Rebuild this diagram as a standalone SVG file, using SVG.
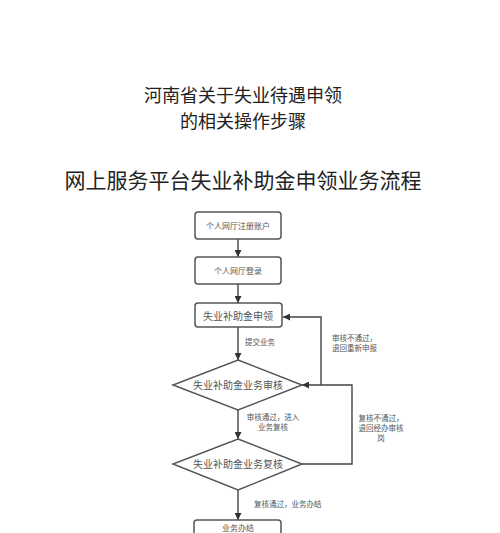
<svg xmlns="http://www.w3.org/2000/svg" width="500" height="533" viewBox="0 0 500 533">
<style>
.t{font-family:"Noto Sans CJK SC","Noto Sans",sans-serif;fill:#222;text-anchor:middle}
.n{fill:#fff;stroke:#555;stroke-width:1.5}
.c{fill:none;stroke:#444;stroke-width:1.4}
.bt{font-family:"Noto Sans CJK SC",sans-serif;fill:#555;font-size:8px;text-anchor:middle}
.dt{font-family:"Noto Sans CJK SC",sans-serif;fill:#555;font-size:10px;text-anchor:middle}
.lt{font-family:"Noto Sans CJK SC",sans-serif;fill:#555;font-size:7.5px}
</style>
<defs>
<marker id="a" viewBox="0 0 10 10" refX="10" refY="5" markerWidth="7" markerHeight="7" markerUnits="userSpaceOnUse" orient="auto">
<path d="M0,0L10,5L0,10z" fill="#333"/>
</marker>
</defs>
<rect width="500" height="533" fill="#fff"/>
<g id="title">
<text class="t" x="243" y="102" font-size="18">河南省关于失业待遇申领</text>
<text class="t" x="243" y="128" font-size="18">的相关操作步骤</text>
<text class="t" x="243" y="188" font-size="21">网上服务平台失业补助金申领业务流程</text>
</g>
<g id="connectors">
<path class="c" d="M238,239V257" marker-end="url(#a)"/>
<path class="c" d="M238,284V303" marker-end="url(#a)"/>
<path class="c" d="M238,327V360" marker-end="url(#a)"/>
<path class="c" d="M238,410V439" marker-end="url(#a)"/>
<path class="c" d="M238,490V520" marker-end="url(#a)"/>
<path class="c" d="M321,385V317H283" marker-end="url(#a)"/>
<path class="c" d="M302,464H352V385H302" marker-end="url(#a)"/>
<text class="lt" x="245" y="345">提交业务</text>
<text class="lt" x="332" y="341">审核不通过，</text>
<text class="lt" x="332" y="351">退回重新申报</text>
<text class="lt" x="273" y="420" text-anchor="middle">审核通过，进入</text>
<text class="lt" x="273" y="430" text-anchor="middle">业务复核</text>
<text class="lt" x="381" y="421" text-anchor="middle">复核不通过，</text>
<text class="lt" x="381" y="431" text-anchor="middle">退回经办审核</text>
<text class="lt" x="381" y="441" text-anchor="middle">岗</text>
<text class="lt" x="254" y="507">复核通过，业务办结</text>
</g>
<g id="n1"><rect class="n" x="195" y="212" width="86" height="27" rx="3"/><text class="bt" x="238" y="229">个人网厅注册账户</text></g>
<g id="n2"><rect class="n" x="195" y="257" width="86" height="27" rx="3"/><text class="bt" x="238" y="274">个人网厅登录</text></g>
<g id="n3"><rect class="n" x="195" y="303" width="87" height="24" rx="3"/><text class="dt" x="238" y="320">失业补助金申领</text></g>
<g id="n4"><polygon class="n" points="238,360 302,385 238,410 173,385"/><text class="dt" x="238" y="389">失业补助金业务审核</text></g>
<g id="n5"><polygon class="n" points="238,439 302,464 238,490 173,464"/><text class="dt" x="238" y="468">失业补助金业务复核</text></g>
<g id="n6"><rect class="n" x="194" y="520" width="87" height="27" rx="3"/><text class="bt" x="238" y="531">业务办结</text></g>
</svg>
